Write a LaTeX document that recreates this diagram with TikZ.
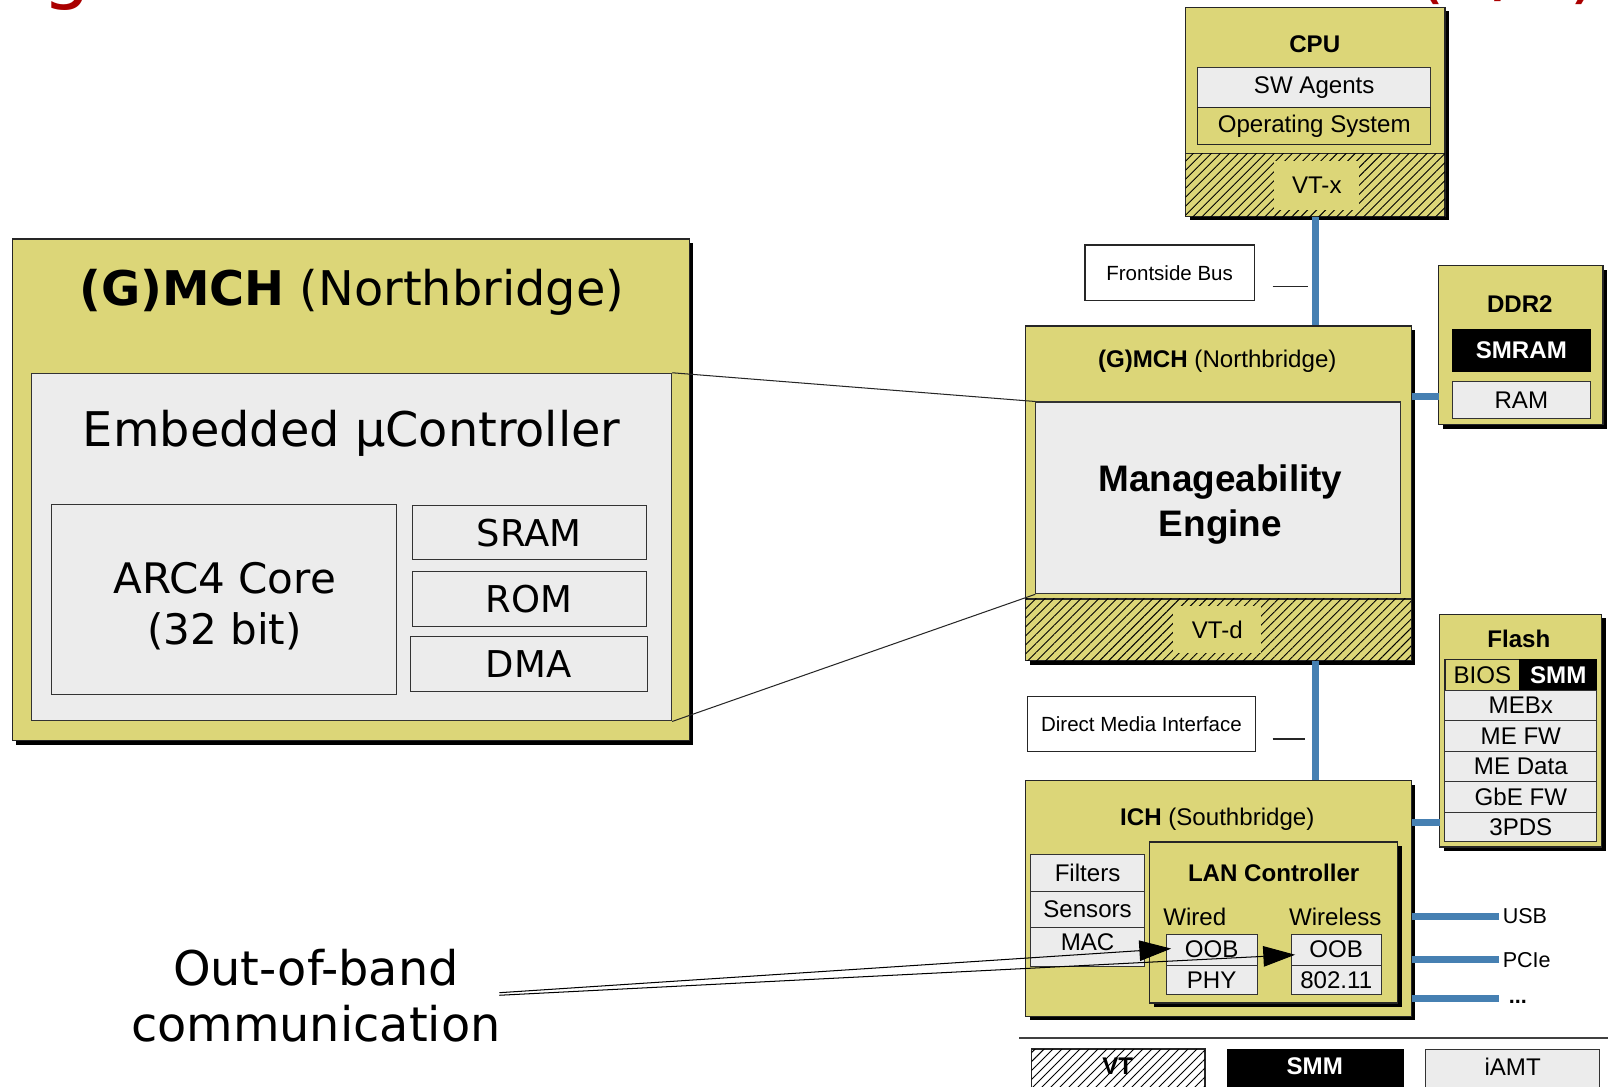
\documentclass[tikz,border=0pt]{standalone}
\usepackage{fontspec}
\setmainfont{Liberation Sans}
\newfontfamily\dvs{DejaVu Sans}
\usetikzlibrary{fit,shadows,patterns.meta,arrows.meta}
\definecolor{ylw}{RGB}{220,214,120}
\definecolor{lgr}{RGB}{236,236,236}
\definecolor{busblue}{RGB}{70,128,178}
\definecolor{ttlred}{RGB}{170,0,0}
\tikzset{
  shad/.style={drop shadow={shadow xshift=2pt,shadow yshift=-2pt,fill=black,opacity=1}},
  ybox/.style={draw=black!85,line width=0.6pt,fill=ylw,inner sep=0pt,shad},
  yplain/.style={draw=black!85,line width=0.6pt,fill=ylw,inner sep=0pt},
  gbox/.style={draw=black!80,line width=0.5pt,fill=lgr,inner sep=0pt},
  wbox/.style={draw=black!85,line width=0.6pt,fill=white,inner sep=0pt},
  kbox/.style={draw=black,fill=black,inner sep=0pt},
  hbox/.style={draw=black!85,line width=0.6pt,fill=ylw,inner sep=0pt,
    postaction={pattern={Lines[angle=45,distance=3.1pt,line width=0.45pt]}}},
  hwbox/.style={draw=black!85,line width=0.6pt,fill=white,inner sep=0pt,
    postaction={pattern={Lines[angle=45,distance=3.1pt,line width=0.45pt]}}},
  patch/.style={fill=ylw,inner sep=0pt},
  lbl/.style={inner sep=0pt,font=\fontsize{11.75}{14}\selectfont},
  blbl/.style={inner sep=0pt,font=\fontsize{11.75}{14}\selectfont\bfseries},
  wlbl/.style={inner sep=0pt,text=white,font=\fontsize{11.75}{14}\selectfont\bfseries},
  slbl/.style={inner sep=0pt,font=\fontsize{10}{12}\selectfont},
  bigt/.style={inner sep=0pt,font=\dvs\fontsize{23.3}{27.5}\selectfont,align=center},
  midt/.style={inner sep=0pt,font=\dvs\fontsize{20.5}{24.5}\selectfont,align=center},
  memt/.style={inner sep=0pt,font=\dvs\fontsize{18}{21}\selectfont},
  ttl/.style={inner sep=0pt,text=ttlred,font=\dvs\fontsize{37.5}{40}\selectfont},
  bus/.style={draw=busblue,line width=3.5pt},
  zoomline/.style={draw=black!85,line width=0.5pt},
  oob/.style={draw=black,line width=0.5pt,-{Triangle[length=15.5pt,width=10pt]}},
}
\begin{document}
\begin{tikzpicture}[x=0.5pt,y=-0.5pt]
\useasboundingbox (0,0) rectangle (1568,1059);
\fill[white] (0,0) rectangle (1568,1059);

% clipped title fragments
\begin{scope}
\clip (0,0) rectangle (1568,1059);
\node[ttl,anchor=base west] (ttlA) at (41,-5) {g};
\node[ttl,anchor=base west] (ttlB) at (1380,-5) {(1/2)};
\end{scope}

% ---------- left: zoomed (G)MCH ----------
\node[ybox,fit={(12,233) (672,722)}] (big) {};
\node[bigt] (bigtitle) at (343,285) {\textbf{(G)MCH} (Northbridge)};
\node[gbox,fit={(31,364) (655,703)}] (emb) {};
\node[bigt] (embt) at (343,423) {Embedded µController};
\node[gbox,fit={(50,492) (387,677)}] (arc) {};
\node[midt] (arct) at (219,591) {ARC4 Core\\(32 bit)};
\node[gbox,fit={(402,493) (630,546)}] (sram) {};
\node[memt] (sramt) at (sram.center) {SRAM};
\node[gbox,fit={(402,557) (630,611)}] (rom) {};
\node[memt] (romt) at (rom.center) {ROM};
\node[gbox,fit={(400,621) (631,674)}] (dma) {};
\node[memt] (dmat) at (dma.center) {DMA};

\node[bigt] (oobt) at (308,971) {Out-of-band\\communication};

% ---------- right: platform ----------
\node[ybox,fit={(1156,7) (1409,211)}] (cpu) {};
\node[ybox,fit={(1000,318) (1376,644)}] (gmch) {};
\node[ybox,fit={(1000,761) (1376,991)}] (ich) {};
\node[ybox,fit={(1403,259) (1563,414)}] (ddr) {};
\node[ybox,fit={(1404,599) (1562,826)}] (flash) {};

\coordinate (ddrbus) at (1403,387);
\coordinate (flbus) at (1404,802);
\coordinate (usbend) at (1462,894);
\coordinate (pcieend) at (1462,936);
\coordinate (moreend) at (1462,973.5);
\draw[bus] (cpu.south) -- (cpu.south |- gmch.north);
\draw[bus] (cpu.south |- gmch.south) -- (cpu.south |- ich.north);
\draw[bus] (gmch.east |- ddrbus) -- (ddrbus);
\draw[bus] (ich.east |- flbus) -- (flbus);
\draw[bus] (ich.east |- usbend) -- (usbend);
\draw[bus] (ich.east |- pcieend) -- (pcieend);
\draw[bus] (ich.east |- moreend) -- (moreend);

% CPU contents
\node[blbl] (cput) at (1282,43) {CPU};
\node[gbox,fit={(1168,66) (1395,105)}] (swag) {};
\node[lbl] (swagt) at (swag.center) {SW Agents};
\node[yplain,fit={(1168,105) (1395,141)}] (os) {};
\node[lbl] (ost) at (os.center) {Operating System};
\node[hbox,fit={(1156,150) (1409,211)}] (cpuvt) {};
\node[patch,lbl,minimum width=41.5pt,minimum height=24pt] (vtx) at (1284,181) {VT-x};

% Frontside bus label
\node[wbox,fit={(1058,239) (1223,293)}] (fsb) {};
\node[slbl] (fsbt) at (fsb.center) {Frontside Bus};
\coordinate (fsbA) at (1241,279);
\coordinate (fsbB) at (1275,279);
\draw[black!85,line width=0.6pt] (fsbA) -- (fsbB);

% GMCH contents
\node[lbl] (gmcht) at (1187,352) {\textbf{(G)MCH} (Northbridge)};
\node[gbox,fit={(1010,392) (1366,579)}] (me) {};
\node[inner sep=0pt,font=\fontsize{18}{21.5}\selectfont\bfseries,align=center] (met) at (1190,492) {Manageability\\Engine};
\node[hbox,fit={(1000,584) (1376,644)}] (gmchvt) {};
\node[patch,lbl,minimum width=43pt,minimum height=23pt] (vtd) at (1187,614) {VT-d};

% DDR2
\node[blbl] (ddrt) at (1482,297) {DDR2};
\node[kbox,fit={(1416,321) (1551,362)}] (smram) {};
\node[wlbl] (smramt) at (smram.center) {SMRAM};
\node[gbox,fit={(1416,372) (1551,408)}] (ram) {};
\node[lbl] (ramt) at (ram.center) {RAM};

% DMI label
\node[wbox,fit={(1002,679) (1224,733)}] (dmi) {};
\node[slbl] (dmit) at (dmi.center) {Direct Media Interface};
\coordinate (dmiA) at (1241,720.5);
\coordinate (dmiB) at (1273,720.5);
\draw[black!85,line width=0.6pt] (dmiA) -- (dmiB);

% Flash
\node[blbl] (flasht) at (1481,623) {Flash};
\node[yplain,fit={(1409,643) (1482,673)}] (bios) {};
\node[lbl] (biost) at (bios.center) {BIOS};
\node[kbox,fit={(1482,643) (1557,673)}] (smm) {};
\node[wlbl] (smmt) at (smm.center) {SMM};
\node[gbox,fit={(1409,673) (1557,703)}] (mebx) {};
\node[lbl] (mebxt) at (mebx.center) {MEBx};
\node[gbox,fit={(1409,703) (1557,732.5)}] (mefw) {};
\node[lbl] (mefwt) at (mefw.center) {ME FW};
\node[gbox,fit={(1409,732.5) (1557,762)}] (medata) {};
\node[lbl] (medatat) at (medata.center) {ME Data};
\node[gbox,fit={(1409,762) (1557,792)}] (gbefw) {};
\node[lbl] (gbefwt) at (gbefw.center) {GbE FW};
\node[gbox,fit={(1409,792) (1557,821)}] (tpds) {};
\node[lbl] (tpdst) at (tpds.center) {3PDS};

% ICH contents
\node[lbl] (icht) at (1187,799) {\textbf{ICH} (Southbridge)};
\node[gbox,fit={(1005,833) (1116,869)}] (filters) {};
\node[lbl] (filterst) at (filters.center) {Filters};
\node[gbox,fit={(1005,869) (1116,904)}] (sensors) {};
\node[lbl] (sensorst) at (sensors.center) {Sensors};
\node[gbox,fit={(1005,904) (1116,942)}] (mac) {};
\node[lbl] (mact) at ([yshift=2pt]mac.center) {MAC};
\node[ybox,fit={(1121,821) (1363,978)}] (lan) {};
\node[blbl] (lant) at (1242,851) {LAN Controller};
\node[lbl] (wiredt) at (1165,894) {Wired};
\node[lbl] (wlesst) at (1302,894) {Wireless};
\node[gbox,fit={(1137,911) (1226,941)}] (woob) {};
\node[lbl] (woobt) at (woob.center) {OOB};
\node[gbox,fit={(1137,941) (1226,970)}] (wphy) {};
\node[lbl] (wphyt) at (wphy.center) {PHY};
\node[gbox,fit={(1259,911) (1347,941)}] (wloob) {};
\node[lbl] (wloobt) at (wloob.center) {OOB};
\node[gbox,fit={(1259,941) (1347,970)}] (wlphy) {};
\node[lbl] (wlphyt) at (wlphy.center) {802.11};

\node[inner sep=0pt,anchor=west,font=\fontsize{10.5}{12}\selectfont] (usbt) at (1465,893) {USB};
\node[inner sep=0pt,anchor=west,font=\fontsize{10.5}{12}\selectfont] (pciet) at (1465,936) {PCIe};
\node[inner sep=0pt,anchor=base west,font=\fontsize{10.5}{12}\selectfont\bfseries] (moret) at (1471,979) {...};

% zoom connectors
\draw[zoomline] (emb.north east) -- (me.north west);
\draw[zoomline] (emb.south east) -- (me.south west);

% out-of-band arrows
\coordinate (oobA) at (487,968);
\coordinate (oobB) at (487,970.5);
\draw[oob] (oobA) -- ([xshift=2.75pt,yshift=0.5pt]woob.west);
\draw[oob] (oobB) -- ([xshift=2.2pt,yshift=-2.5pt]wloob.west);

% legend
\coordinate (legA) at (994,1012.5);
\coordinate (legB) at (1568,1012.5);
\draw[black!75,line width=1pt] (legA) -- (legB);
\begin{scope}
\clip (0,0) rectangle (1568,1059);
\node[hwbox,fit={(1006,1023) (1175,1085)}] (legvt) {};
\node[blbl] (legvtt) at (1090,1040) {VT};
\node[kbox,fit={(1197,1023) (1368,1085)}] (legsmm) {};
\node[wlbl] (legsmmt) at (1282,1040) {SMM};
\node[gbox,fit={(1390,1023) (1560,1085)}] (legamt) {};
\node[lbl] (legamtt) at (1475,1040) {iAMT};
\end{scope}
\end{tikzpicture}
\end{document}
